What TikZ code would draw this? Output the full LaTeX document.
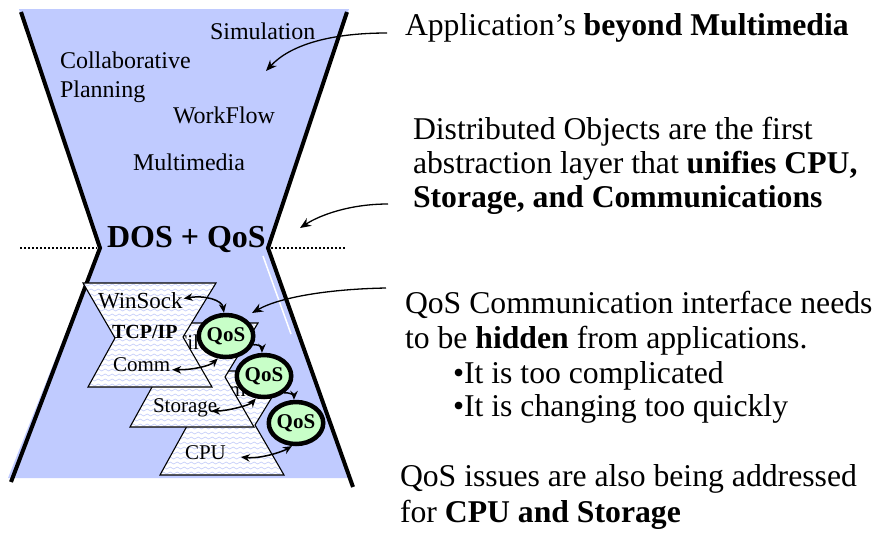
\documentclass[tikz,border=0pt]{standalone}
\usepackage{fontspec}
\setmainfont{Liberation Serif}
\usetikzlibrary{arrows.meta,shapes.geometric,decorations.pathmorphing}
\definecolor{hgblue}{RGB}{192,203,255}
\definecolor{qosgreen}{RGB}{200,255,200}
\definecolor{wavecol}{RGB}{200,208,250}
\newcommand\fsz[1]{\fontsize{#1}{#1}\selectfont}
\newcommand\hgshape[1]{%
  \begin{scope}[shift={#1}]
    \fill[white] (0,0) -- (133,0) -- (100,54) -- (129,104) -- (5,104) -- (32,55) -- cycle;
    \begin{scope}
      \clip (0,0) -- (133,0) -- (100,54) -- (129,104) -- (5,104) -- (32,55) -- cycle;
      \foreach \wy in {2,7,...,107} {\draw[wavy] (-8,\wy) -- (142,\wy);}
    \end{scope}
    \draw[shapeline] (0,0) -- (133,0) -- (100,54) -- (129,104) -- (5,104) -- (32,55) -- cycle;
  \end{scope}}
\begin{document}
\begin{tikzpicture}[x=1pt,y=-1pt,
  >={Stealth[length=9pt,width=7.5pt]},
  lbl/.style={inner sep=0pt, outer sep=0pt, anchor=base west},
  wavy/.style={wavecol, line width=0.7pt, decorate, decoration={snake, amplitude=1pt, segment length=7pt}},
  shapeline/.style={line width=1.1pt, line join=miter},
  hgline/.style={line width=4pt, line join=miter},
  dotline/.style={line width=2.6pt, dash pattern=on 2pt off 2pt},
  qos/.style={ellipse, draw, line width=4.5pt, fill=qosgreen, minimum width=46pt, minimum height=42pt, inner sep=0pt, font=\bfseries\fsz{21}},
  inarr/.style={line width=1.5pt},
  bigarr/.style={line width=1.3pt, -{Stealth[length=11pt,width=9pt]}},
  side/.style={lbl, font=\fsz{31.7}},
  app/.style={lbl, font=\fsz{24}},
  lay/.style={lbl, font=\fsz{21}}]
\useasboundingbox (0,0) rectangle (881,542);
% hourglass
\fill[hgblue] (19,9) -- (349,9) -- (268,249) -- (351,478) -- (8,478) -- (99,249) -- cycle;
\draw[white, line width=1.5pt] (263,256) -- (291,334);
\draw[hgline] (21,12) -- (100,248) -- (11,482);
\draw[hgline] (347,12) -- (268,248) -- (353,487);
\draw[dotline] (20,248) -- (97,248);
\draw[dotline] (271,248) -- (345,248);
% application labels
\node[app] (sim) at (210,39) {Simulation};
\node[app] (col) at (60,68) {Collaborative};
\node[app] (pla) at (60,97) {Planning};
\node[app] (wf) at (173,123) {WorkFlow};
\node[app] (mm) at (133,170.5) {Multimedia};
\node[lbl, font=\bfseries\fsz{32}] (dos) at (107,247) {DOS + QoS};
% layer shapes, back to front
\hgshape{(155,371)}
\node[lay, anchor=base east] (tm) at (255,396) {Time};
\node[lay] (cpu) at (185,459) {CPU};
\hgshape{(125,323)}
\node[lay, anchor=base] (fi) at (192,349) {File};
\node[lay] (st) at (153,412) {Storage};
\hgshape{(83,283)}
\node[lbl, font=\fsz{23}] (ws) at (98,308.5) {WinSock};
\node[lbl, font=\bfseries\fsz{20}] (tcp) at (112,338.5) {TCP/IP};
\node[lay] (cm) at (113,371.7) {Comm};
% QoS circles
\node[qos] (q1) at (226,336) {QoS};
\node[qos] (q2) at (264,376) {QoS};
\node[qos] (q3) at (296,423) {QoS};
% inner arrows
\draw[inarr, <->] ([shift={(1pt,10pt)}]ws.base east) .. controls (205,295) and (222,300) .. (q1.95);
\draw[inarr, <->] (q1.250) .. controls (210,366) and (192,370) .. ([shift={(2pt,2pt)}]cm.base east);
\draw[inarr, ->] (q1.-18) .. controls (255,344) and (262,346) .. (q2.95);
\draw[inarr, <->] (q2.250) .. controls (250,405) and (228,411) .. ([shift={(-6pt,1pt)}]st.base east);
\draw[inarr, ->] (q2.-40) .. controls (290,392) and (294,396) .. (q3.95);
\draw[inarr, <->] (q3.260) .. controls (282,452) and (260,459) .. ([shift={(15pt,2pt)}]cpu.base east);
% side texts
\node[side] (apt) at (405,35) {Application’s \textbf{beyond Multimedia}};
\node[side] (do1) at (413,139.5) {Distributed Objects are the first};
\node[side] (do2) at (413,173.5) {abstraction layer that \textbf{unifies CPU,}};
\node[side] (do3) at (413,207) {\textbf{Storage, and Communications}};
\node[side] (qc1) at (405,313) {QoS Communication interface needs};
\node[side] (qc2) at (405,348) {to be \textbf{hidden} from applications.};
\node[side] (bl1) at (453,383) {•It is too complicated};
\node[side] (bl2) at (453,416.7) {•It is changing too quickly};
\node[side] (qi1) at (400,486.7) {QoS issues are also being addressed};
\node[side] (qi2) at (400,522.7) {for \textbf{CPU and Storage}};
% pointer arrows
\coordinate (t1) at (266,71);
\coordinate (t2) at (300,228);
\coordinate (t3) at (252,313);
\draw[bigarr] ([shift={(-18pt,2pt)}]apt.base west) .. controls (330,33) and (290,45) .. (t1);
\draw[bigarr] ([shift={(-25pt,3pt)}]do3.base west) .. controls (350,204) and (320,215) .. (t2);
\draw[bigarr] ([shift={(-19pt,25pt)}]qc1.base west) .. controls (330,289) and (280,297) .. (t3);
\end{tikzpicture}
\end{document}
